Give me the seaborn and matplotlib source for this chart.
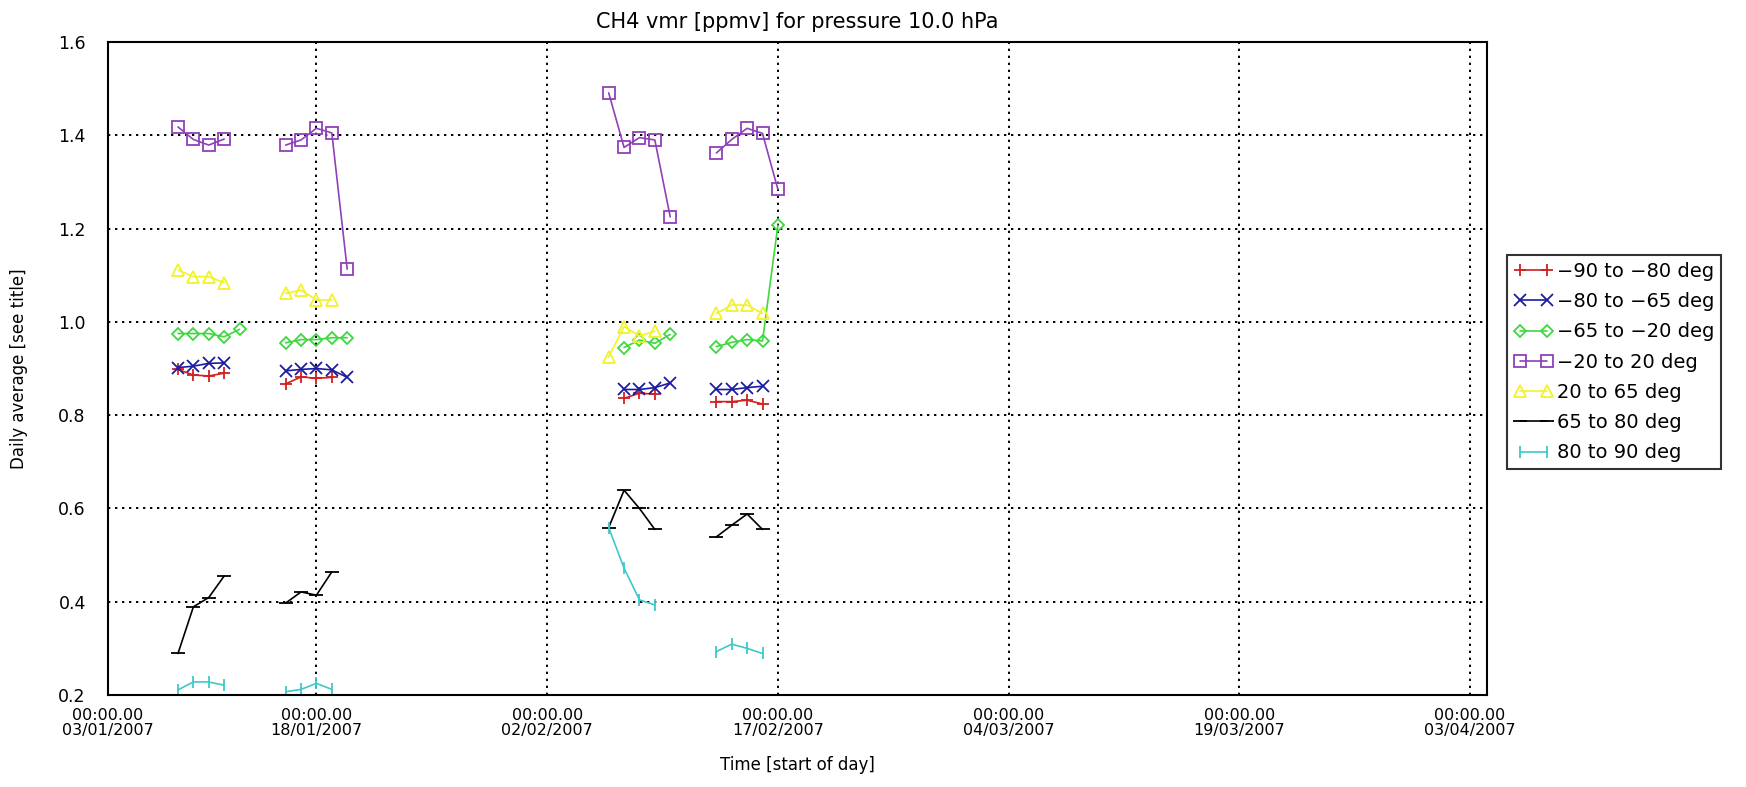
import numpy as np
import pandas as pd
import matplotlib
matplotlib.use('Agg')
import matplotlib.pyplot as plt
import seaborn as sns
from matplotlib.lines import Line2D

# days counted from 01/01/2007 (= day 0)
red_days = [8, 9, 10, 11, 15, 16, 17, 18, 37, 38, 39, 43, 44, 45, 46]
red_vals = [0.898, 0.886, 0.884, 0.890, 0.867, 0.882, 0.879, 0.881,
            0.836, 0.847, 0.845, 0.829, 0.829, 0.832, 0.824]

blue_days = [8, 9, 10, 11, 15, 16, 17, 18, 19, 37, 38, 39, 40, 43, 44, 45, 46]
blue_vals = [0.902, 0.905, 0.911, 0.912, 0.895, 0.898, 0.900, 0.897, 0.881,
             0.855, 0.855, 0.859, 0.869, 0.855, 0.855, 0.859, 0.862]

green_days = [8, 9, 10, 11, 12, 15, 16, 17, 18, 19, 37, 38, 39, 40, 43, 44, 45, 46, 47]
green_vals = [0.975, 0.975, 0.975, 0.968, 0.984, 0.955, 0.962, 0.962, 0.966, 0.966,
              0.945, 0.961, 0.954, 0.973, 0.947, 0.956, 0.962, 0.959, 1.207]

purple_days = [8, 9, 10, 11, 15, 16, 17, 18, 19, 36, 37, 38, 39, 40, 43, 44, 45, 46, 47]
purple_vals = [1.418, 1.391, 1.379, 1.392, 1.379, 1.390, 1.415, 1.405, 1.113,
               1.491, 1.374, 1.395, 1.390, 1.225, 1.362, 1.391, 1.415, 1.404, 1.284]

yellow_days = [8, 9, 10, 11, 15, 16, 17, 18, 36, 37, 38, 39, 43, 44, 45, 46]
yellow_vals = [1.111, 1.097, 1.097, 1.084, 1.061, 1.068, 1.047, 1.047,
               0.925, 0.990, 0.970, 0.980, 1.018, 1.036, 1.036, 1.018]

black_days = [8, 9, 10, 11, 15, 16, 17, 18, 36, 37, 38, 39, 43, 44, 45, 46]
black_vals = [0.289, 0.389, 0.409, 0.455, 0.397, 0.421, 0.414, 0.464,
              0.559, 0.639, 0.600, 0.555, 0.539, 0.564, 0.588, 0.555]

cyan_days = [8, 9, 10, 11, 15, 16, 17, 18, 36, 37, 38, 39, 43, 44, 45, 46]
cyan_vals = [0.211, 0.228, 0.228, 0.221, 0.207, 0.212, 0.225, 0.212,
             0.559, 0.472, 0.404, 0.393, 0.293, 0.309, 0.300, 0.289]

band_labels = ['\u221290 to \u221280 deg', '\u221280 to \u221265 deg', '\u221265 to \u221220 deg',
               '\u221220 to 20 deg', '20 to 65 deg', '65 to 80 deg', '80 to 90 deg']

tick_days = [3.45, 17, 32, 47, 62, 77, 92]
tick_dates = ['03/01/2007', '18/01/2007', '02/02/2007', '17/02/2007',
              '04/03/2007', '19/03/2007', '03/04/2007']
y_ticks = [0.2, 0.4, 0.6, 0.8, 1.0, 1.2, 1.4, 1.6]

series = [
    (red_days, red_vals, '#d02020', '+', 9),
    (blue_days, blue_vals, '#1c1ca0', 'x', 8),
    (green_days, green_vals, '#3ed83e', 'D', 6.5),
    (purple_days, purple_vals, '#9040b8', 's', 9),
    (yellow_days, yellow_vals, '#f2f22a', '^', 8),
    (black_days, black_vals, 'black', '_', 10),
    (cyan_days, cyan_vals, '#40c8c8', '|', 8),
]

sns.set_style('white')
plt.rcParams['font.family'] = ['DejaVu Sans']
plt.rcParams['text.color'] = 'black'
plt.rcParams['axes.labelcolor'] = 'black'
plt.rcParams['xtick.color'] = 'black'
plt.rcParams['ytick.color'] = 'black'

fig = plt.figure(figsize=(17.46, 7.87), dpi=100)
ax = fig.add_axes([108 / 1746, 92 / 787, (1487 - 108) / 1746, (695 - 42) / 787])

handles = []
for (d, v, col, mk, ms), lab in zip(series, band_labels):
    df = pd.DataFrame({'day': d, 'val': v})
    # break the line where days are missing
    df['seg'] = (df['day'].diff() > 1).cumsum()
    sns.lineplot(data=df, x='day', y='val', units='seg', estimator=None,
                 color=col, linewidth=1.2, marker=mk, markersize=ms,
                 markerfacecolor='none', markeredgecolor=col, markeredgewidth=1.3,
                 sort=False, legend=False, ax=ax)
    handles.append(Line2D([], [], color=col, linewidth=1.2, marker=mk, markersize=ms,
                          markerfacecolor='none', markeredgecolor=col, markeredgewidth=1.3))

ax.set_xlim(3.45, 93.1)
ax.set_ylim(0.2, 1.6)
ax.set_xticks(tick_days)
ax.set_xticklabels(['00:00.00\n' + t for t in tick_dates], fontsize=11.5, linespacing=1.0)
ax.set_yticks(y_ticks)
ax.set_yticklabels(['%.1f' % t for t in y_ticks], fontsize=12.5)
ax.tick_params(length=0)
ax.tick_params(axis='x', pad=9)
ax.tick_params(axis='y', pad=16)
ax.grid(True, color='black', linestyle=(0, (1.2, 2.4)), linewidth=1.4)
for s in ax.spines.values():
    s.set_color('black')
    s.set_linewidth(1.5)

ax.set_title('CH4 vmr [ppmv] for pressure 10.0 hPa', fontsize=15, pad=10)
ax.set_xlabel('Time [start of day]', fontsize=12, labelpad=13)
ax.set_ylabel('Daily average [see title]', fontsize=12, labelpad=22)

leg = fig.legend(handles, band_labels, loc='upper left', bbox_to_anchor=(1507 / 1746, 1 - 255 / 787),
                 numpoints=2, fontsize=14, handlelength=2.0, handletextpad=0.2,
                 labelspacing=0.58, borderpad=0.35, borderaxespad=0, frameon=True, fancybox=False)
leg.get_frame().set_edgecolor('black')
leg.get_frame().set_linewidth(1.5)

fig.savefig('out.png', dpi=100)
